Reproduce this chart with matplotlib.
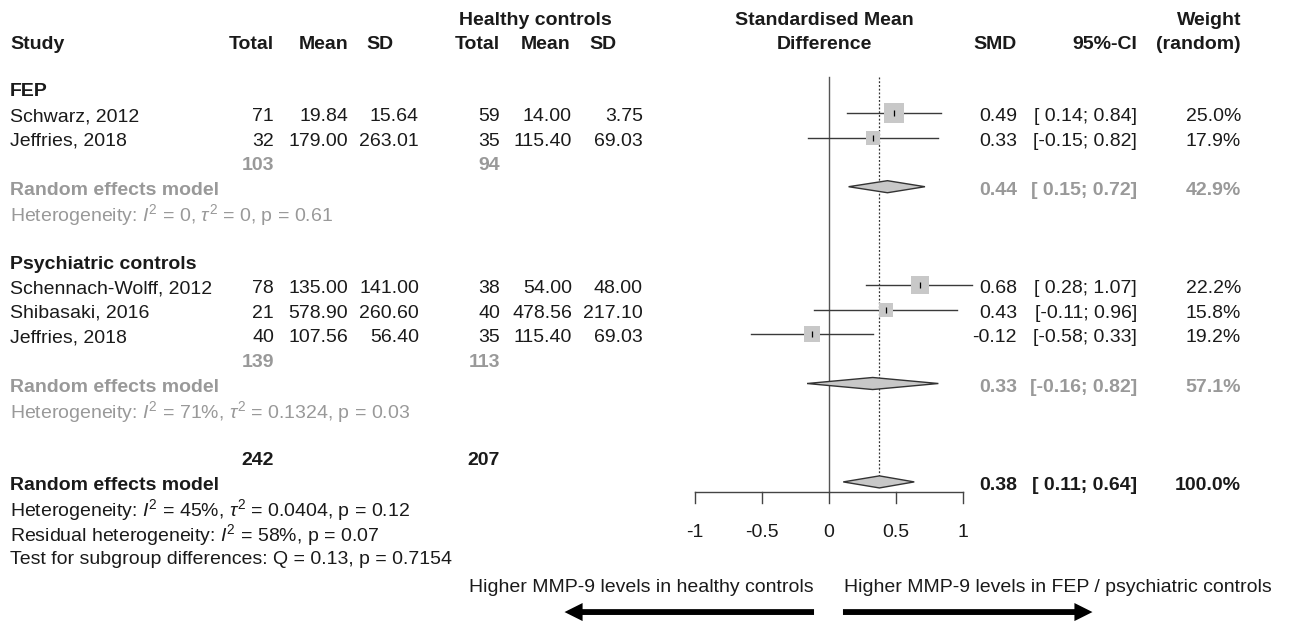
"""
Forest plot: MMP-9 levels in FEP / psychiatric controls vs healthy controls.

Standardised mean differences per study, random effects subgroup and
overall summaries, laid out like an R `meta::forest` output.
"""

import matplotlib
matplotlib.use('Agg')  # Use non-interactive backend
import matplotlib.pyplot as plt

# ---------------------------------------------------------------------------
# Data
# ---------------------------------------------------------------------------
group_names = ["FEP", "Psychiatric controls"]
study_group = [0, 0, 1, 1, 1]
study_labels = ["Schwarz, 2012", "Jeffries, 2018", "Schennach-Wolff, 2012",
                "Shibasaki, 2016", "Jeffries, 2018"]
n_exp = [71, 32, 78, 21, 40]
mean_exp = [19.84, 179.00, 135.00, 578.90, 107.56]
sd_exp = [15.64, 263.01, 141.00, 260.60, 56.40]
n_ctrl = [59, 35, 38, 40, 35]
mean_ctrl = [14.00, 115.40, 54.00, 478.56, 115.40]
sd_ctrl = [3.75, 69.03, 48.00, 217.10, 69.03]
smd = [0.49, 0.33, 0.68, 0.43, -0.12]
ci_low = [0.14, -0.15, 0.28, -0.11, -0.58]
ci_high = [0.84, 0.82, 1.07, 0.96, 0.33]
weights = [25.0, 17.9, 22.2, 15.8, 19.2]

# subgroup summaries
sub_n_exp = [103, 139]
sub_n_ctrl = [94, 113]
sub_smd = [0.44, 0.33]
sub_low = [0.15, -0.16]
sub_high = [0.72, 0.82]
sub_weight = [42.9, 57.1]
sub_het = [r"Heterogeneity: $I^2$ = 0, $\tau^2$ = 0, p = 0.61",
           r"Heterogeneity: $I^2$ = 71%, $\tau^2$ = 0.1324, p = 0.03"]

# overall summary
total_n_exp = 242
total_n_ctrl = 207
total_smd = 0.38
total_low = 0.11
total_high = 0.64
total_weight = 100.0
overall_notes = [r"Heterogeneity: $I^2$ = 45%, $\tau^2$ = 0.0404, p = 0.12",
                 r"Residual heterogeneity: $I^2$ = 58%, p = 0.07",
                 "Test for subgroup differences: Q = 0.13, p = 0.7154"]

axis_ticks = [-1, -0.5, 0, 0.5, 1]
axis_tick_labels = ["-1", "-0.5", "0", "0.5", "1"]
favours_left = "Higher MMP-9 levels in healthy controls"
favours_right = "Higher MMP-9 levels in FEP / psychiatric controls"

# ---------------------------------------------------------------------------
# Layout (pixels of the 1303 x 623 output)
# ---------------------------------------------------------------------------
FIG_W, FIG_H = 1303, 623
ZERO_PX, UNIT_PX = 828.5, 134.0      # x position of SMD = 0, pixels per unit
ROW0_PX, ROW_PX = 92.0, 24.6         # y of first row, row height
MARK_SHIFT = -0.15                   # marks sit a bit above text centre

COL_STUDY = 10
COL_N_E, COL_MEAN_E, COL_SD_E = 274, 348, 419
COL_N_C, COL_MEAN_C, COL_SD_C = 500, 572, 643
COL_SMD, COL_CI, COL_W = 1017, 1137, 1241

BLACK = '#1a1a1a'
GREY = '#999999'
FILL = '#c8c8c8'

plt.rcParams['font.family'] = ['Liberation Sans', 'DejaVu Sans']
plt.rcParams['font.size'] = 14
plt.rcParams['mathtext.fontset'] = 'custom'
plt.rcParams['mathtext.rm'] = 'Liberation Sans'
plt.rcParams['mathtext.it'] = 'Liberation Sans:italic'
plt.rcParams['mathtext.bf'] = 'Liberation Sans:bold'

fig = plt.figure(figsize=(FIG_W / 100, FIG_H / 100), dpi=100)
ax = fig.add_axes([0, 0, 1, 1])
ax.set_xlim(-ZERO_PX / UNIT_PX, (FIG_W - ZERO_PX) / UNIT_PX)
ax.set_ylim((FIG_H - ROW0_PX) / ROW_PX, -ROW0_PX / ROW_PX)
ax.axis('off')
trans = ax.get_yaxis_transform()  # x in axes fraction, y in rows


def put(x_px, row, s, ha='right', color=BLACK, bold=False):
    ax.text(x_px / FIG_W, row, s, transform=trans, ha=ha, va='center',
            color=color, fontweight='bold' if bold else 'normal')


def ci_text(est, lo, hi):
    return f"{est:.2f}", f"[{lo:5.2f}; {hi:.2f}]"


def diamond(est, lo, hi, row, half=0.245):
    y = row + MARK_SHIFT
    ax.fill([lo, est, hi, est], [y, y - half, y, y + half],
            facecolor=FILL, edgecolor='#333333', linewidth=1, zorder=3)


# header
put(535, -2.9, "Healthy controls", ha='center', bold=True)
put(824, -2.9, "Standardised Mean", ha='center', bold=True)
put(COL_W, -2.9, "Weight", bold=True)
put(COL_STUDY, -1.95, "Study", ha='left', bold=True)
put(COL_N_E, -1.95, "Total", bold=True)
put(COL_MEAN_E, -1.95, "Mean", bold=True)
put(366, -1.95, "SD", ha='left', bold=True)
put(COL_N_C, -1.95, "Total", bold=True)
put(570, -1.95, "Mean", bold=True)
put(589, -1.95, "SD", ha='left', bold=True)
put(824, -1.95, "Difference", ha='center', bold=True)
put(COL_SMD, -1.95, "SMD", bold=True)
put(COL_CI, -1.95, "95%-CI", bold=True)
put(COL_W, -1.95, "(random)", bold=True)

# study rows grouped by subgroup
row = 0
for g, name in enumerate(group_names):
    put(COL_STUDY, row, name, ha='left', bold=True)
    row += 1
    for i in [k for k, sg in enumerate(study_group) if sg == g]:
        put(COL_STUDY, row, study_labels[i], ha='left')
        put(COL_N_E, row, f"{n_exp[i]}")
        put(COL_MEAN_E, row, f"{mean_exp[i]:.2f}")
        put(COL_SD_E, row, f"{sd_exp[i]:.2f}")
        put(COL_N_C, row, f"{n_ctrl[i]}")
        put(COL_MEAN_C, row, f"{mean_ctrl[i]:.2f}")
        put(COL_SD_C, row, f"{sd_ctrl[i]:.2f}")
        est_s, ci_s = ci_text(smd[i], ci_low[i], ci_high[i])
        put(COL_SMD, row, est_s)
        put(COL_CI, row, ci_s)
        put(COL_W, row, f"{weights[i]:.1f}%")

        y = row + MARK_SHIFT
        ax.plot([ci_low[i], ci_high[i]], [y, y], color='#3a3a3a', lw=1, zorder=2)
        side = 0.83 * weights[i] * 0.72  # square side in points
        ax.scatter([smd[i]], [y], marker='s', s=side ** 2, color=FILL,
                   linewidths=0, zorder=3)
        ax.scatter([smd[i]], [y], marker='|', s=20, color='black',
                   linewidths=0.9, zorder=4)
        row += 1

    put(COL_N_E, row, f"{sub_n_exp[g]}", color=GREY, bold=True)
    put(COL_N_C, row, f"{sub_n_ctrl[g]}", color=GREY, bold=True)
    row += 1
    put(COL_STUDY, row, "Random effects model", ha='left', color=GREY, bold=True)
    est_s, ci_s = ci_text(sub_smd[g], sub_low[g], sub_high[g])
    put(COL_SMD, row, est_s, color=GREY, bold=True)
    put(COL_CI, row, ci_s, color=GREY, bold=True)
    put(COL_W, row, f"{sub_weight[g]:.1f}%", color=GREY, bold=True)
    diamond(sub_smd[g], sub_low[g], sub_high[g], row)
    row += 1
    put(COL_STUDY, row, sub_het[g], ha='left', color=GREY)
    row += 2

# overall
put(COL_N_E, row, f"{total_n_exp}", bold=True)
put(COL_N_C, row, f"{total_n_ctrl}", bold=True)
row += 1
put(COL_STUDY, row, "Random effects model", ha='left', bold=True)
est_s, ci_s = ci_text(total_smd, total_low, total_high)
put(COL_SMD, row, est_s, bold=True)
put(COL_CI, row, ci_s, bold=True)
put(COL_W, row, f"{total_weight:.1f}%", bold=True)
diamond(total_smd, total_low, total_high, row)
overall_row = row
row += 1
for note in overall_notes:
    put(COL_STUDY, row, note, ha='left')
    row += 1

# reference lines and x axis
axis_row = overall_row + 0.26
line_top = -0.61
ax.plot([0, 0], [line_top, axis_row], color='#555555', lw=1, zorder=1)
ax.plot([total_smd, total_smd], [line_top, overall_row + MARK_SHIFT - 0.245],
        color='#333333', lw=0.9, ls=(0, (1.5, 1.5)), zorder=1)
ax.plot([axis_ticks[0], axis_ticks[-1]], [axis_row, axis_row], color='#444444', lw=1)
for t, lab in zip(axis_ticks, axis_tick_labels):
    ax.plot([t, t], [axis_row, axis_row + 0.45], color='#444444', lw=1)
    ax.text(t, axis_row + 1.63, lab, ha='center', va='center', color=BLACK)

# favours labels with arrows
text_row = axis_row + 3.9
arrow_row = axis_row + 4.88
ax.text(-0.108, text_row, favours_left, ha='right', va='center', color=BLACK)
ax.text(0.115, text_row, favours_right, ha='left', va='center', color=BLACK)
arrow_style = "simple,head_length=1.3,head_width=1.3,tail_width=0.42"
for tail, tip in [(-0.108, -1.97), (0.108, 1.97)]:
    ax.annotate("", xy=(tip, arrow_row), xytext=(tail, arrow_row),
                arrowprops=dict(arrowstyle=arrow_style, fc='black', ec='black',
                                lw=0, shrinkA=0, shrinkB=0, mutation_scale=10))

fig.savefig('out.png', dpi=100)
plt.close(fig)
